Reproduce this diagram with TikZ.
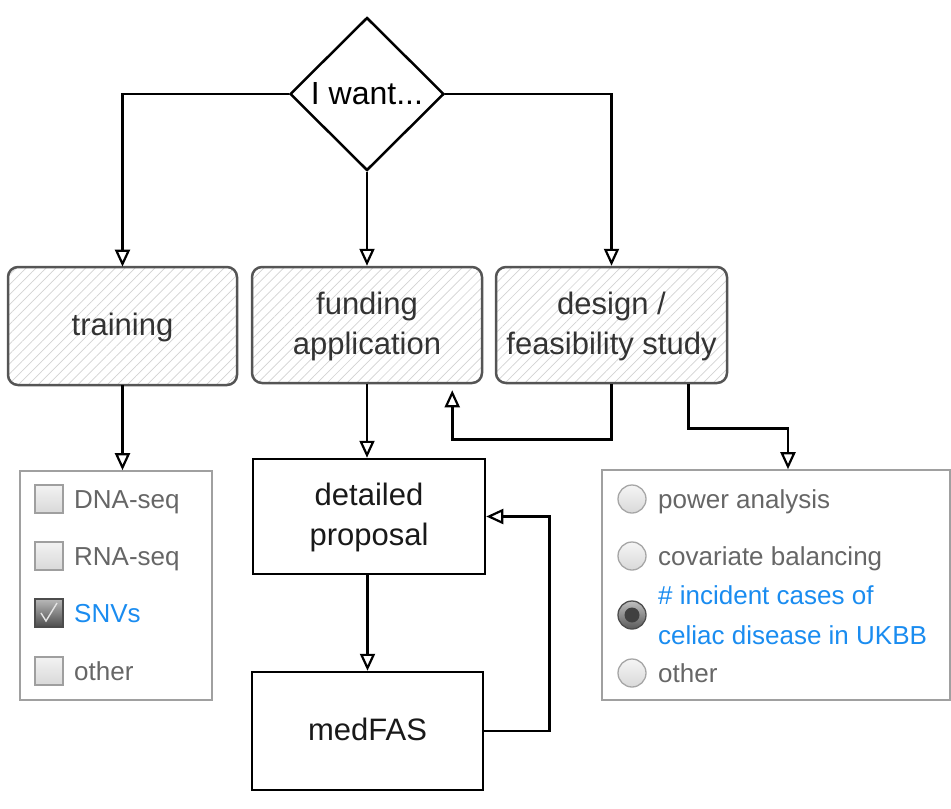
\documentclass[tikz,border=0pt]{standalone}
\usepackage{fontspec}
\setmainfont{Liberation Sans}
\usetikzlibrary{shapes.geometric,arrows.meta,patterns.meta,calc}
\definecolor{txtgray}{HTML}{666666}
\definecolor{selblue}{HTML}{1A8CF0}
\definecolor{boxgray}{HTML}{555555}
\definecolor{panelgray}{HTML}{A0A0A0}
\begin{document}
\begin{tikzpicture}[x=1pt,y=-1pt,
  conn/.style={draw=black,line width=2.5pt,-{Triangle[open,length=17pt,width=15pt,line width=2.2pt]}},
  hatchbox/.style={draw=boxgray,line width=2.5pt,rounded corners=10pt,
     pattern={Lines[angle=45,distance=7pt,line width=0.7pt]},pattern color=gray!35,
     align=center,font=\fontsize{31}{40}\selectfont,text=black!80,inner sep=0pt,text depth=4pt},
  plainbox/.style={draw=black,line width=2.5pt,align=center,
     font=\fontsize{31}{40}\selectfont,text=black!90,inner sep=0pt,text depth=4pt},
  panel/.style={draw=panelgray,line width=1.6pt,inner sep=0pt},
  cbox/.style={draw=gray!75,line width=1.3pt,top color=gray!10,bottom color=gray!30},
  cboxon/.style={draw=black!70,line width=1.3pt,top color=gray!55,bottom color=black!70},
  rbox/.style={draw=gray!70,line width=1.3pt,top color=gray!8,bottom color=gray!30},
  item/.style={anchor=base west,inner sep=0pt,font=\fontsize{26}{34}\selectfont,text=txtgray},
  sel/.style={item,text=selblue}]
\useasboundingbox (0,0) rectangle (951,809);

% decision
\node[diamond,draw=black,line width=2.5pt,minimum width=154pt,minimum height=153pt,
      inner sep=0pt,font=\fontsize{32}{40}\selectfont] (want) at (367,94) {I want...};

% top row
\node[hatchbox,minimum width=229pt,minimum height=118pt] (training) at (122.5,326) {training};
\node[hatchbox,minimum width=230pt,minimum height=116pt] (funding) at (367,325) {funding\\application};
\node[hatchbox,minimum width=231pt,minimum height=116pt] (design) at (611.5,325) {design /\\feasibility study};

% middle column
\node[plainbox,minimum width=232pt,minimum height=115pt] (proposal) at (369,516.5) {detailed\\proposal};
\node[plainbox,minimum width=231pt,minimum height=118pt] (medfas) at (367.5,731) {medFAS};

% panels
\node[panel,minimum width=192pt,minimum height=229pt] (checks) at (116,585.5) {};
\node[panel,minimum width=348pt,minimum height=230pt] (radios) at (776,585) {};

% checkbox items
\path[cbox] (35,485) rectangle (63,513);
\node[item] (c1) at (74,508) {DNA-seq};
\path[cbox] (35,542) rectangle (63,570);
\node[item] (c2) at (74,565) {RNA-seq};
\path[cboxon] (35,599) rectangle (63,627);
\draw[gray!20,line width=1.4pt] (41,613) -- (46,621) -- (57,603);
\node[sel] (c3) at (74,622) {SNVs};
\path[cbox] (35,657) rectangle (63,685);
\node[item] (c4) at (74,680) {other};

% radio items
\path[rbox] (632,499) circle[radius=14pt];
\node[item] (r1) at (658,508) {power analysis};
\path[rbox] (632,556) circle[radius=14pt];
\node[item] (r2) at (658,565) {covariate balancing};
\path[draw=black!70,line width=1.3pt,top color=gray!50,bottom color=black!65] (632,615) circle[radius=14pt];
\fill[black!75] (632,615) circle[radius=7.5pt];
\node[sel] (r3a) at (658,604) {\# incident cases of};
\node[sel] (r3b) at (658,644) {celiac disease in UKBB};
\path[rbox] (632,673) circle[radius=14pt];
\node[item] (r4) at (658,682) {other};

% connectors
\draw[conn] (want.west) -| (training.north);
\draw[conn] (want.south) -- (funding.north);
\draw[conn] (want.east) -| (design.north);
\draw[conn] (training.south) -- (training.south |- checks.north);
\draw[conn] (funding.south) -- (funding.south |- proposal.north);
\draw[conn] (proposal.south -| medfas.north) -- (medfas.north);
\draw[conn] (medfas.east) -- ++(65,0) |- (proposal.east);
\draw[conn] (design.south) -- ++(0,55) -| ([xshift=-31pt,yshift=-6pt]funding.south east);
\draw[conn] ([xshift=77pt]design.south) -- ++(0,44) -| ([xshift=12pt]radios.north);
\end{tikzpicture}
\end{document}
